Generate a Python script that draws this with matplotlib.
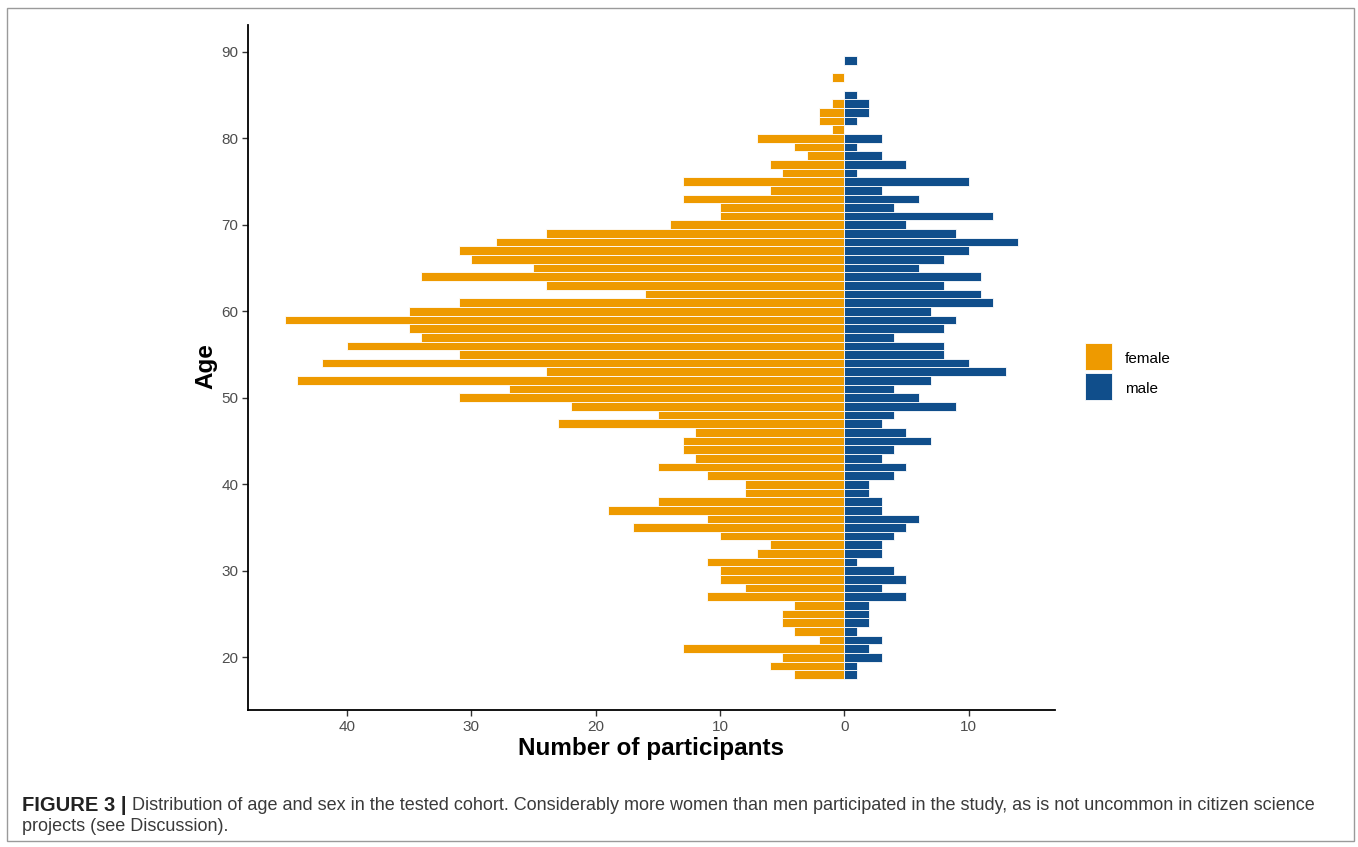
import numpy as np
import matplotlib.pyplot as plt
from matplotlib.patches import Rectangle
from matplotlib.ticker import FuncFormatter

plt.rcParams['font.family'] = ['Liberation Sans', 'DejaVu Sans']

# participants per year of age, 18 .. 89
ages = np.arange(18, 90)
female = [4, 6, 5, 13, 2, 4, 5, 5, 4, 11, 8, 10, 10, 11, 7, 6, 10, 17, 11, 19,
          15, 8, 8, 11, 15, 12, 13, 13, 12, 23, 15, 22, 31, 27, 44, 24, 42, 31,
          40, 34, 35, 45, 35, 31, 16, 24, 34, 25, 30, 31, 28, 24, 14, 10, 10, 13,
          6, 13, 5, 6, 3, 4, 7, 1, 2, 2, 1, 0, 0, 1, 0, 0]
male = [1, 1, 3, 2, 3, 1, 2, 2, 2, 5, 3, 5, 4, 1, 3, 3, 4, 5, 6, 3,
        3, 2, 2, 4, 5, 3, 4, 7, 5, 3, 4, 9, 6, 4, 7, 13, 10, 8,
        8, 4, 8, 9, 7, 12, 11, 8, 11, 6, 8, 10, 14, 9, 5, 12, 4, 6,
        3, 10, 1, 5, 3, 1, 3, 0, 1, 2, 2, 1, 0, 0, 0, 1]
sexes = ['female', 'male']
colors = ['#EE9A00', '#104E8B']

female = np.array(female)
male = np.array(male)

W, H = 1358, 847
fig = plt.figure(figsize=(W / 100, H / 100), dpi=100)
ax = fig.add_axes([248 / W, 1 - 710 / H, (1055 - 248) / W, (710 - 25) / H])

fm = female > 0
mm = male > 0
ax.barh(ages[fm], -female[fm], height=1.0, color=colors[0], edgecolor='white', linewidth=0.6)
ax.barh(ages[mm], male[mm], height=1.0, color=colors[1], edgecolor='white', linewidth=0.6)

ax.set_xlim(-47.95, 16.95)
ax.set_ylim(13.9, 93.1)
ax.set_xticks([-40, -30, -20, -10, 0, 10])
ax.set_yticks([20, 30, 40, 50, 60, 70, 80, 90])
ax.xaxis.set_major_formatter(FuncFormatter(lambda v, p: '%d' % abs(v)))

for s in ['top', 'right']:
    ax.spines[s].set_visible(False)
for s in ['left', 'bottom']:
    ax.spines[s].set_linewidth(1.3)
ax.tick_params(axis='both', length=4, width=1, color='#333333',
               labelcolor='#4D4D4D', labelsize=11, pad=3)

ax.set_xlabel('Number of participants', fontsize=17.5, fontweight='bold', va='center')
ax.xaxis.set_label_coords(0.5, (710 - 748) / 685)
ax.set_ylabel('Age', fontsize=17.5, fontweight='bold', va='center')
ax.yaxis.set_label_coords((206 - 248) / 807, (710 - 366) / 685)

# legend keys
for i, (lab, c) in enumerate(zip(sexes, colors)):
    y0 = H - 370 - i * 30
    fig.patches.append(Rectangle((1085 / W, y0 / H), 27 / W, 27 / H,
                                 transform=fig.transFigure, facecolor=c,
                                 edgecolor='white', linewidth=0.6))
    fig.text(1125 / W, (y0 + 11) / H, lab, fontsize=11, va='center', ha='left')

# outer frame and caption
fig.patches.append(Rectangle((7 / W, 6 / H), 1347 / W, 833 / H,
                             transform=fig.transFigure, facecolor='none',
                             edgecolor='#9A9A9A', linewidth=1))
cap_color = '#3A3A3A'
fig.text(22 / W, 1 - 805 / H, 'FIGURE 3 |', fontsize=14.5, fontweight='bold',
         color='#222222', va='center', ha='left')
fig.text(132 / W, 1 - 805 / H,
         'Distribution of age and sex in the tested cohort. Considerably more women than men '
         'participated in the study, as is not uncommon in citizen science',
         fontsize=13, color=cap_color, va='center', ha='left')
fig.text(22 / W, 1 - 826 / H, 'projects (see Discussion).', fontsize=13,
         color=cap_color, va='center', ha='left')

fig.savefig('out.png', dpi=100)
